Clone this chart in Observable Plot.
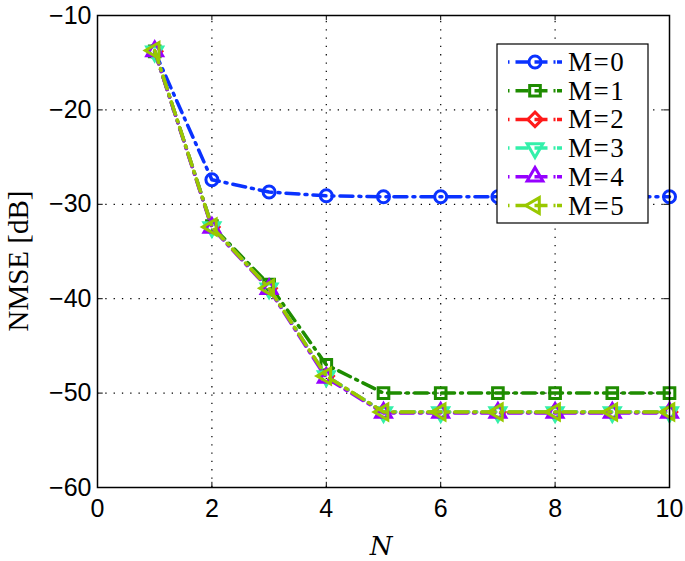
<!DOCTYPE html>
<html>
<head>
<meta charset="utf-8">
<script src="https://cdn.jsdelivr.net/npm/d3@7"></script>
<script src="https://cdn.jsdelivr.net/npm/@observablehq/plot@0.6"></script>
<style>
html,body{margin:0;padding:0;background:#fff;}
#chart{position:relative;width:685px;height:561px;}
</style>
</head>
<body>
<div id="chart"></div>
<script>
const N = [1,2,3,4,5,6,7,8,9,10];
const M0 = [-13.8,-27.4,-28.7,-29.1,-29.2,-29.2,-29.2,-29.2,-29.2,-29.2];
const M1 = [-13.8,-32.3,-38.5,-47.0,-50.0,-50.0,-50.0,-50.0,-50.0,-50.0];
const M2 = [-13.8,-32.4,-38.9,-48.2,-52.0,-52.0,-52.0,-52.0,-52.0,-52.0];
const M3 = [-13.8,-32.4,-38.9,-48.2,-52.0,-52.0,-52.0,-52.0,-52.0,-52.0];
const M4 = [-13.8,-32.5,-39.0,-48.4,-52.1,-52.1,-52.1,-52.1,-52.1,-52.1];
const M5 = [-13.7,-32.4,-38.9,-48.2,-52.0,-52.0,-52.0,-52.0,-52.0,-52.0];
const seriesNames = ["M=0","M=1","M=2","M=3","M=4","M=5"];
const seriesValues = [M0,M1,M2,M3,M4,M5];
const colors = ["#0a32ff","#1e8c00","#ff1a1a","#33f0aa","#9600ff","#99c800"];
const xTicks = [0,2,4,6,8,10];
const yTicks = [-60,-50,-40,-30,-20,-10];

const triDown = {draw(c, size){const r=Math.sqrt(size/3); c.moveTo(-r*1.1,-r*0.6); c.lineTo(r*1.1,-r*0.6); c.lineTo(0,r*1.3); c.closePath();}};
const triUp = {draw(c, size){const r=Math.sqrt(size/3); c.moveTo(-r*1.1,r*0.6); c.lineTo(r*1.1,r*0.6); c.lineTo(0,-r*1.3); c.closePath();}};
const triLeft = {draw(c, size){const r=Math.sqrt(size/3); c.moveTo(r*0.6,-r*1.1); c.lineTo(r*0.6,r*1.1); c.lineTo(-r*1.3,0); c.closePath();}};
const symbols = ["circle","square","diamond2",triDown,triUp,triLeft];
const symR = [6,6,6.5,7,7,7];

const data = [];
seriesNames.forEach((m,i)=>N.forEach((n,j)=>data.push({M:m, N:n, v:seriesValues[i][j], i})));

const marks = [
  Plot.ruleX(xTicks.slice(1,-1), {x:d=>d, y1:-60, y2:-10, stroke:"#000", strokeWidth:1.2, strokeDasharray:"1.3,7"}),
  Plot.ruleY(yTicks.slice(1,-1), {y:d=>d, x1:0, x2:10, stroke:"#000", strokeWidth:1.2, strokeDasharray:"1.3,7"}),
  Plot.ruleX(xTicks, {x:d=>d, y1:-60, y2:-59.45, stroke:"#000", strokeWidth:1}),
  Plot.ruleX(xTicks, {x:d=>d, y1:-10.55, y2:-10, stroke:"#000", strokeWidth:1}),
  Plot.ruleY(yTicks, {y:d=>d, x1:0, x2:0.1, stroke:"#000", strokeWidth:1}),
  Plot.ruleY(yTicks, {y:d=>d, x1:9.9, x2:10, stroke:"#000", strokeWidth:1}),
];
seriesNames.forEach((m,i)=>{
  const d = data.filter(r=>r.i===i);
  marks.push(Plot.line(d, {x:"N", y:"v", stroke:colors[i], strokeWidth:3.5, strokeDasharray:"13,6,2,6"}));
  marks.push(Plot.dot(d, {x:"N", y:"v", stroke:colors[i], strokeWidth:3, fill:"none", symbol:()=>symbols[i], r:symR[i]}));
});
marks.push(Plot.frame({stroke:"#000", strokeWidth:1.5}));

const plot = Plot.plot({
  width:685, height:561,
  marginLeft:97, marginRight:16, marginTop:15, marginBottom:74,
  x:{domain:[0,10], ticks:xTicks, tickSize:0, tickPadding:12, label:null, tickFormat:d=>String(d)},
  y:{domain:[-60,-10], ticks:yTicks, tickSize:0, tickPadding:6, label:null, tickFormat:d=>d<0?"\u2212"+Math.abs(d):String(d)},
  symbol:{type:"identity"},
  style:{fontFamily:"Liberation Sans, Arial, sans-serif", fontSize:"25px", color:"#000", background:"#fff"},
  marks
});
document.getElementById("chart").appendChild(plot);

const svg = d3.select(plot);

// axis titles
svg.append("text").attr("x",381).attr("y",555).attr("text-anchor","middle")
  .attr("font-family","DejaVu Serif, Liberation Serif, serif").attr("font-style","italic").attr("font-size",26).attr("fill","#000").text("N");
svg.append("text").attr("transform","translate(28,261) rotate(-90)").attr("text-anchor","middle")
  .attr("font-family","Liberation Serif, DejaVu Serif, serif").attr("font-size",29).attr("fill","#000").text("NMSE [dB]");

// legend
const lg = svg.append("g");
lg.append("rect").attr("x",497).attr("y",44).attr("width",151).attr("height",179).attr("fill","#fff").attr("stroke","#000").attr("stroke-width",1.2);
const symMap = {circle:d3.symbolCircle, square:d3.symbolSquare, diamond2:d3.symbolDiamond2};
seriesNames.forEach((m,i)=>{
  const yy = 62 + i*28.7;
  lg.append("line").attr("x1",508).attr("x2",562).attr("y1",yy).attr("y2",yy)
    .attr("stroke",colors[i]).attr("stroke-width",3.5).attr("stroke-dasharray","1.5,6,13,6,13,6,2");
  const s = typeof symbols[i]==="string" ? symMap[symbols[i]] : symbols[i];
  const size = Math.PI*symR[i]*symR[i];
  lg.append("path").attr("d", d3.symbol(s, size)()).attr("transform",`translate(535,${yy})`)
    .attr("fill","none").attr("stroke",colors[i]).attr("stroke-width",3);
  lg.append("text").attr("x",568).attr("y",yy+9).attr("text-anchor","start").attr("font-family","Liberation Serif, DejaVu Serif, serif")
    .attr("font-size",27).attr("letter-spacing",1.5).attr("fill","#000").text(m);
});
</script>
</body>
</html>
